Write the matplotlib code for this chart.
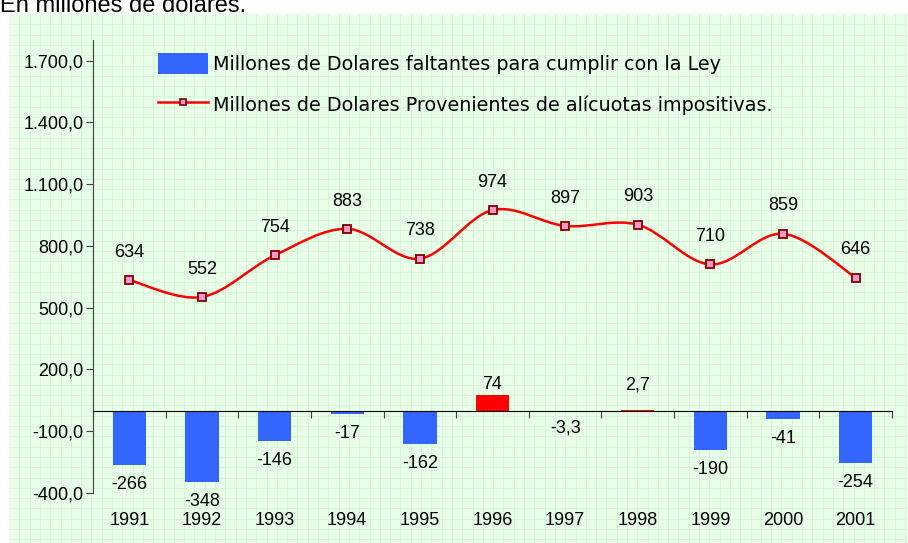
import matplotlib
matplotlib.use("Agg")
import matplotlib.pyplot as plt
from matplotlib.path import Path
from matplotlib.patches import PathPatch, Patch
from matplotlib.lines import Line2D
from matplotlib.ticker import FuncFormatter, FixedLocator
import numpy as np

years = ["1991", "1992", "1993", "1994", "1995", "1996",
         "1997", "1998", "1999", "2000", "2001"]
faltantes = [-266, -348, -146, -17, -162, 74, -3.3, 2.7, -190, -41, -254]
alicuotas = [634, 552, 754, 883, 738, 974, 897, 903, 710, 859, 646]
y_ticks = [-400, -100, 200, 500, 800, 1100, 1400, 1700]

BLUE = "#3366FF"
RED = "#FF0000"
BG = "#E8FEE8"
GRIDC = "#CFF8CF"
FONT = "Liberation Sans"


def fmt_es(v, pos=None):
    s = f"{v:,.1f}"
    return s.replace(",", "X").replace(".", ",").replace("X", ".")


def label_es(v):
    if float(v).is_integer():
        return str(int(v))
    return str(v).replace(".", ",")


def smooth_path(xs, ys):
    # bezier segments through the points, like a spreadsheet "smoothed line"
    pts = np.column_stack([xs, ys]).astype(float)
    n = len(pts)
    verts = [pts[0]]
    codes = [Path.MOVETO]
    for i in range(n - 1):
        p0 = pts[i - 1] if i > 0 else pts[i]
        p1 = pts[i]
        p2 = pts[i + 1]
        p3 = pts[i + 2] if i + 2 < n else pts[i + 1]
        c1 = p1 + (p2 - p0) / 6.0
        c2 = p2 - (p3 - p1) / 6.0
        verts += [c1, c2, p2]
        codes += [Path.CURVE4] * 3
    return Path(verts, codes)


W, H = 908, 543
fig = plt.figure(figsize=(W / 100, H / 100), dpi=100)
fig.patch.set_facecolor("white")

# green squared background
x0, y0 = 9 / W, 0.0
fig.patches.append(plt.Rectangle((x0, y0), 1 - x0, 1 - 14 / H,
                                 transform=fig.transFigure,
                                 facecolor=BG, edgecolor="none", zorder=-10))
step = 10.3
gx = 9 + step
while gx < W:
    fig.lines.append(Line2D([gx / W, gx / W], [0, 1 - 14 / H],
                            transform=fig.transFigure, color=GRIDC,
                            lw=0.6, zorder=-9))
    gx += step
gy = 14 + step
while gy < H:
    fig.lines.append(Line2D([x0, 1], [1 - gy / H, 1 - gy / H],
                            transform=fig.transFigure, color=GRIDC,
                            lw=0.6, zorder=-9))
    gy += step

fig.text(0.0, 1 - 11.5 / H, "En millones de dolares.", fontsize=17,
         family=FONT, ha="left", va="baseline")

ax = fig.add_axes([93 / W, (H - 493) / H, (892 - 93) / W, (493 - 40) / H])
ax.set_facecolor("none")

x = np.arange(len(years))
colors = [RED if v > 0 else BLUE for v in faltantes]
ax.bar(x, faltantes, width=0.46, color=colors, zorder=2)

ax.add_patch(PathPatch(smooth_path(x, alicuotas), facecolor="none",
                       edgecolor=RED, lw=1.8, zorder=3))
ax.plot(x, alicuotas, ls="none", marker="s", ms=6, mfc="#FF99CC",
        mec="#800000", mew=1.3, zorder=4)

ax.set_xlim(-0.5, len(years) - 0.5)
ax.set_ylim(-400, 1800)

ax.spines["top"].set_visible(False)
ax.spines["right"].set_visible(False)
ax.spines["left"].set_color("#404040")
ax.spines["left"].set_bounds(-400, 1800)
ax.spines["bottom"].set_position(("data", 0))
ax.spines["bottom"].set_color("black")

ax.yaxis.set_major_locator(FixedLocator(y_ticks))
ax.yaxis.set_major_formatter(FuncFormatter(fmt_es))
ax.tick_params(axis="y", direction="out", length=5, color="#404040",
               labelsize=13, pad=2)
for t in ax.get_yticklabels():
    t.set_family(FONT)

ax.set_xticks(np.arange(len(years) + 1) - 0.5)
ax.set_xticklabels([])
ax.tick_params(axis="x", direction="out", length=5, color="#404040")

for xi, yr in zip(x, years):
    ax.annotate(yr, (xi, 0), xycoords=("data", "axes fraction"),
                xytext=(0, -19.5), textcoords="offset points",
                ha="center", va="center", fontsize=13, family=FONT)

for xi, v in zip(x, alicuotas):
    ax.annotate(label_es(v), (xi, v), xytext=(0, 20),
                textcoords="offset points", ha="center", va="center",
                fontsize=13, family=FONT)

for xi, v in zip(x, faltantes):
    off = 8 if v > 0 else -14
    if abs(v) < 10:
        off = 18 if v > 0 else -12
    ax.annotate(label_es(v), (xi, v), xytext=(0, off),
                textcoords="offset points", ha="center", va="center",
                fontsize=13, family=FONT)

handles = [Patch(facecolor=BLUE, edgecolor="none"),
           Line2D([], [], color=RED, lw=1.8, marker="s", ms=5,
                  mfc="#FF99CC", mec="#800000", mew=1.2)]
labels = ["Millones de Dolares faltantes para cumplir con la Ley",
          "Millones de Dolares Provenientes de alícuotas impositivas."]
leg = fig.legend(handles, labels, loc="upper left",
                 bbox_to_anchor=(141 / W, 1 - 36 / H),
                 frameon=False, prop={"family": "DejaVu Sans", "size": 13.75},
                 handlelength=2.6, handleheight=1.3, handletextpad=0.25,
                 labelspacing=1.05)

fig.savefig("out.png", dpi=100)
